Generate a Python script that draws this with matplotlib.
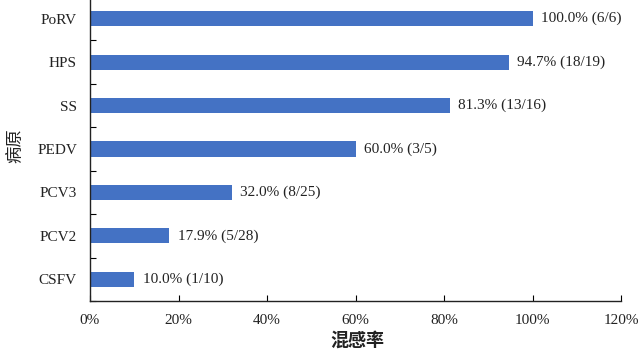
import matplotlib
matplotlib.use("Agg")
import matplotlib.pyplot as plt
from matplotlib.ticker import FuncFormatter, FixedLocator

categories = ["CSFV", "PCV2", "PCV3", "PEDV", "SS", "HPS", "PoRV"]
rates = [10.0, 17.9, 32.0, 60.0, 81.3, 94.7, 100.0]
counts = ["1/10", "5/28", "8/25", "3/5", "13/16", "18/19", "6/6"]
xticks = [0, 20, 40, 60, 80, 100, 120]

serif = ["Liberation Serif", "DejaVu Serif"]
cjk = ["Noto Sans CJK SC", "DejaVu Sans"]

fig = plt.figure(figsize=(6.42, 3.56), dpi=100)
ax = fig.add_axes([90/642, 1-301/356, (621-90)/642, 304/356])

y = list(range(len(categories)))
bars = ax.barh(y, rates, height=0.35, color="#4472C4")
for yi, r, c in zip(y, rates, counts):
    ax.annotate(f"{r:.1f}% ({c})", xy=(r, yi), xytext=(6, 0), textcoords="offset points",
                va="center", ha="left", fontsize=11, family=serif, color="#222222")

ax.set_xlim(0, 120)
ax.set_ylim(-0.5, len(categories)-0.5)
ax.set_xticks(xticks)
ax.xaxis.set_major_formatter(FuncFormatter(lambda v, p: f"{v:.0f}%"))
ax.set_yticks(y)
ax.set_yticklabels(categories)
ax.yaxis.set_minor_locator(FixedLocator([i + 0.5 for i in range(-1, len(categories))]))
ax.tick_params(axis="y", which="major", length=0, pad=9.4)
ax.tick_params(axis="y", which="minor", direction="in", length=4, width=0.8)
ax.tick_params(axis="x", which="major", direction="in", length=4, width=0.8, pad=9)
for lab in ax.get_xticklabels() + ax.get_yticklabels():
    lab.set_family(serif)
    lab.set_fontsize(11)
    lab.set_color("#222222")

for s in ["top", "right"]:
    ax.spines[s].set_visible(False)
for s in ["left", "bottom"]:
    ax.spines[s].set_linewidth(1.0)
    ax.spines[s].set_color("#222222")

fig.text(357/642, 1-340/356, "混感率", ha="center", va="center", fontsize=13,
         family=cjk, fontweight="bold", color="#222222")
fig.text(15/642, 1-146/356, "病原", ha="center", va="center", fontsize=12.5,
         family=cjk, rotation=90, color="#222222")

fig.savefig("out.png", dpi=100)
